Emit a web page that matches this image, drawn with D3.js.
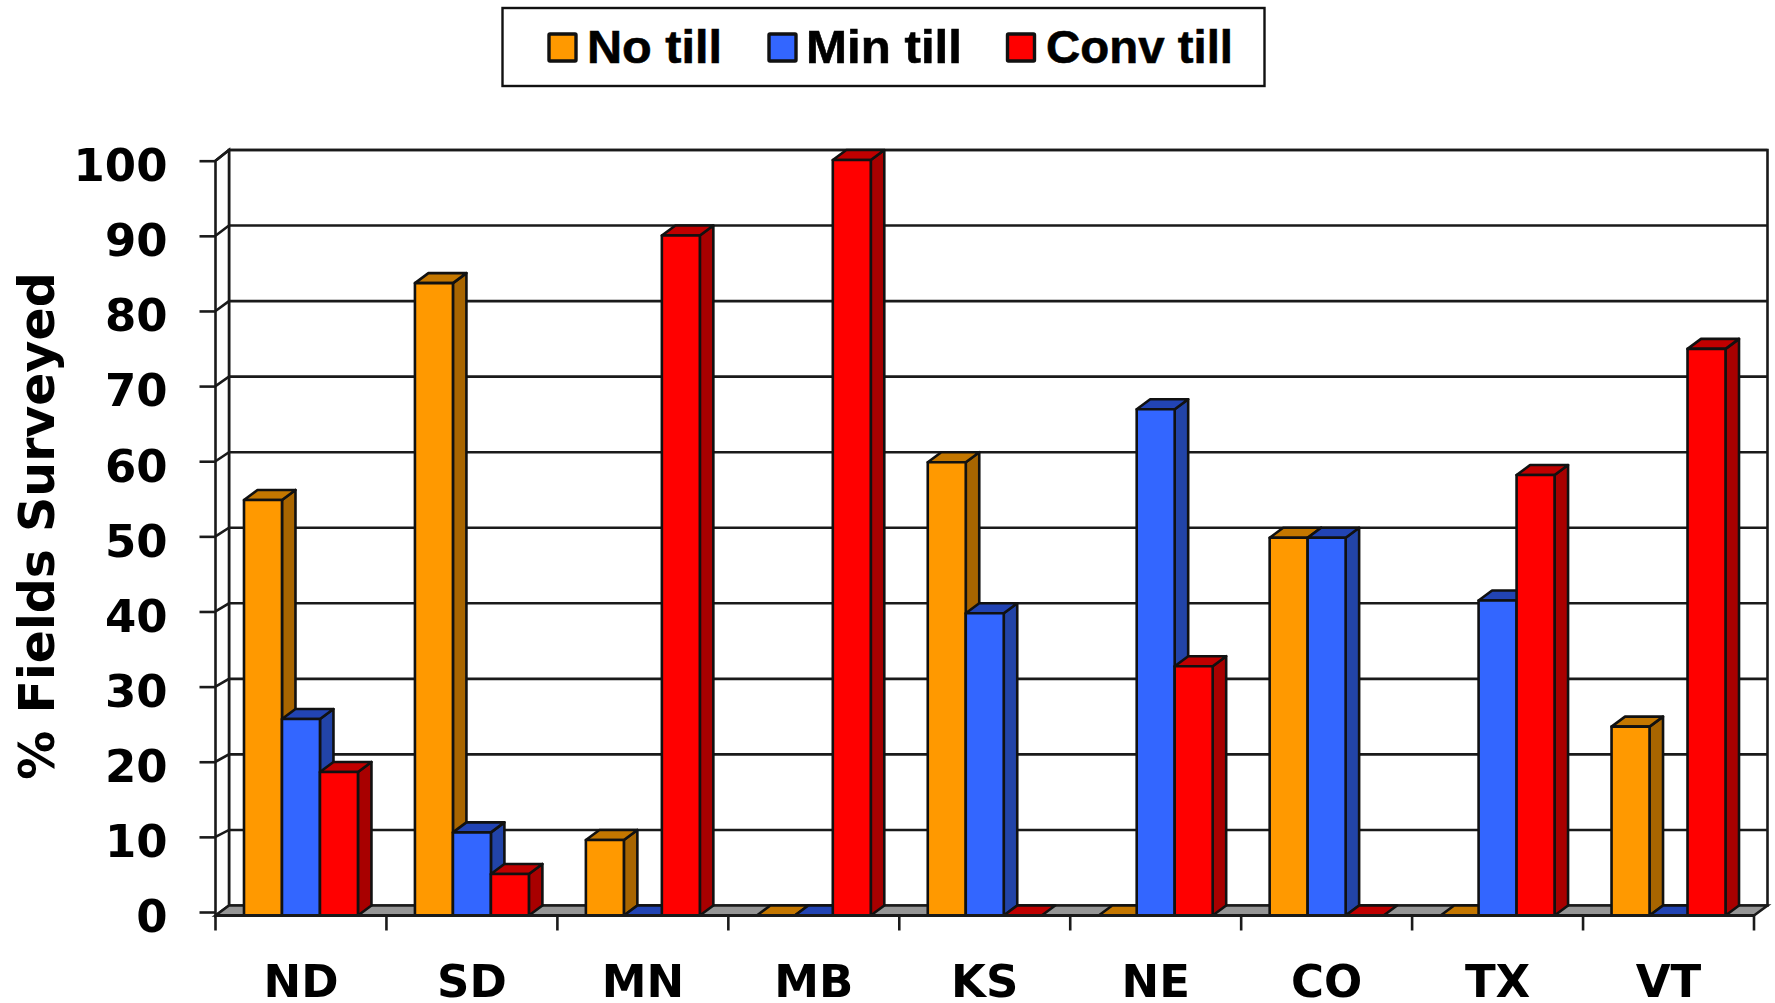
<!DOCTYPE html>
<html><head><meta charset="utf-8">
<script src="https://cdnjs.cloudflare.com/ajax/libs/d3/7.8.5/d3.min.js"></script>
<style>
html,body{margin:0;padding:0;background:#fff;overflow:hidden}
svg{display:block;filter:blur(0.5px)}
text{fill:#000}
</style></head><body>
<svg id="c" width="1775" height="1003"></svg>
<script>
const categories = ["ND","SD","MN","MB","KS","NE","CO","TX","VT"];
const seriesNames = ["No till","Min till","Conv till"];
const noTill   = [55, 83.7, 10, 0, 60, 0, 50, 0, 25];
const minTill  = [26, 11, 0, 0, 40, 67, 50, 41.7, 0];
const convTill = [19, 5.5, 90, 100, 0, 33, 0, 58.3, 75];
const yTicks = [0,10,20,30,40,50,60,70,80,90,100];
const faceColors = ["#FF9900","#3366FF","#FF0000"];
const sideColors = ["#A86500","#2244A8","#A80000"];
const topColors  = ["#C47700","#2244B4","#C00000"];
const seriesValues = [noTill, minTill, convTill];

const svg = d3.select("#c");
const INK = "#1a1a1a";
const DX = 13.5, DY = -10;
const x0 = d3.scaleBand().domain(categories).range([215.5,1754]);
const x1 = d3.scaleBand().domain(seriesNames).range([0,x0.bandwidth()]).paddingInner(0).paddingOuter(0.75);
const y = d3.scaleLinear().domain([0,100]).range([915.5,160]);
const yTick = d3.scaleLinear().domain([0,100]).range([912,160.7]);
const poly = pts => pts.map(p=>p.join(",")).join(" ");
const xL = x0.range()[0], xR = x0.range()[1];

// walls and floor
svg.append("polygon").attr("fill","#fff").attr("stroke",INK).attr("stroke-width",2.6)
  .attr("points",poly([[xL+DX,y(100)+DY],[xR+DX,y(100)+DY],[xR+DX,y(0)+DY],[xL+DX,y(0)+DY]]));
svg.append("polygon").attr("fill","#fff").attr("stroke",INK).attr("stroke-width",2.6)
  .attr("points",poly([[xL,yTick(100)],[xL+DX,y(100)+DY],[xL+DX,y(0)+DY],[xL,y(0)]]));
svg.append("polygon").attr("fill","#969696").attr("stroke",INK).attr("stroke-width",2.6)
  .attr("points",poly([[xL,y(0)],[xL+DX,y(0)+DY],[xR+DX,y(0)+DY],[xR,y(0)]]));

// gridlines with wall diagonals
const grid = svg.append("g").attr("fill","none").attr("stroke",INK).attr("stroke-width",2.6);
yTicks.filter(d=>d>0).forEach(d=>{
  grid.append("polyline").attr("points",poly([[xL,yTick(d)],[xL+DX,y(d)+DY],[xR+DX,y(d)+DY]]));
});

// bars
const bars = svg.append("g").attr("stroke","#111").attr("stroke-width",2.6).attr("stroke-linejoin","round");
categories.forEach((c,i)=>{
  seriesNames.forEach((s,j)=>{
    const v = seriesValues[j][i];
    const l = x0(c)+x1(s), r = l+x1.bandwidth(), t = y(v), b = y(0);
    if (v>0) {
      bars.append("polygon").attr("fill",sideColors[j]).attr("points",poly([[r,t],[r+DX,t+DY],[r+DX,b+DY],[r,b]]));
    }
    bars.append("polygon").attr("fill",topColors[j]).attr("points",poly([[l,t],[l+DX,t+DY],[r+DX,t+DY],[r,t]]));
    if (v>0) {
      bars.append("rect").attr("fill",faceColors[j]).attr("x",l).attr("y",t).attr("width",r-l).attr("height",b-t);
    }
  });
});

// front baseline
svg.append("line").attr("x1",xL).attr("x2",xR).attr("y1",y(0)).attr("y2",y(0)).attr("stroke",INK).attr("stroke-width",3);

// y axis
const ya = svg.append("g").attr("transform",`translate(${xL},0)`)
  .call(d3.axisLeft(yTick).tickValues(yTicks).tickSize(16).tickPadding(32));
ya.select(".domain").remove();
ya.selectAll("line").attr("stroke",INK).attr("stroke-width",2.6);
ya.selectAll("text").attr("font-family","'DejaVu Sans'").attr("font-weight",700).attr("font-size",45)
  .attr("dy","0.44em").attr("fill","#000");

// x axis
const xa = svg.append("g").attr("transform",`translate(0,${y(0)})`)
  .call(d3.axisBottom(x0).tickSize(0).tickPadding(50));
xa.select(".domain").remove();
xa.selectAll("text").attr("font-family","'DejaVu Sans'").attr("font-weight",700).attr("font-size",45)
  .attr("fill","#000");
const edges = categories.map(c=>x0(c)).concat([xR]);
svg.append("g").selectAll("line").data(edges).join("line")
  .attr("x1",d=>d).attr("x2",d=>d).attr("y1",y(0)).attr("y2",y(0)+15)
  .attr("stroke",INK).attr("stroke-width",2.6);

// y title
svg.append("text").attr("transform","translate(54,526) rotate(-90)")
  .attr("text-anchor","middle").attr("font-family","'DejaVu Sans'").attr("font-weight",700)
  .attr("font-size",49).text("% Fields Surveyed");

// legend
const legend = svg.append("g");
legend.append("rect").attr("x",502.5).attr("y",8).attr("width",762).attr("height",78)
  .attr("fill","#fff").attr("stroke","#111").attr("stroke-width",2.4);
const legendSwatchX = d3.scaleOrdinal().domain(seriesNames).range([549,769,1007.5]);
const legendTextX = d3.scaleOrdinal().domain(seriesNames).range([587,806,1046]);
const legendTextW = d3.scaleOrdinal().domain(seriesNames).range([135,156,187]);
seriesNames.forEach((s,j)=>{
  legend.append("rect").attr("x",legendSwatchX(s)).attr("y",34).attr("width",27).attr("height",27).attr("rx",1)
    .attr("fill",faceColors[j]).attr("stroke","#111").attr("stroke-width",3.4);
  legend.append("text").attr("x",legendTextX(s)).attr("y",63)
    .attr("font-family","'Liberation Sans'").attr("font-weight",700).attr("font-size",47)
    .attr("stroke","#000").attr("stroke-width",0.6)
    .attr("textLength",legendTextW(s)).attr("lengthAdjust","spacingAndGlyphs").text(s);
});
</script>
</body></html>
